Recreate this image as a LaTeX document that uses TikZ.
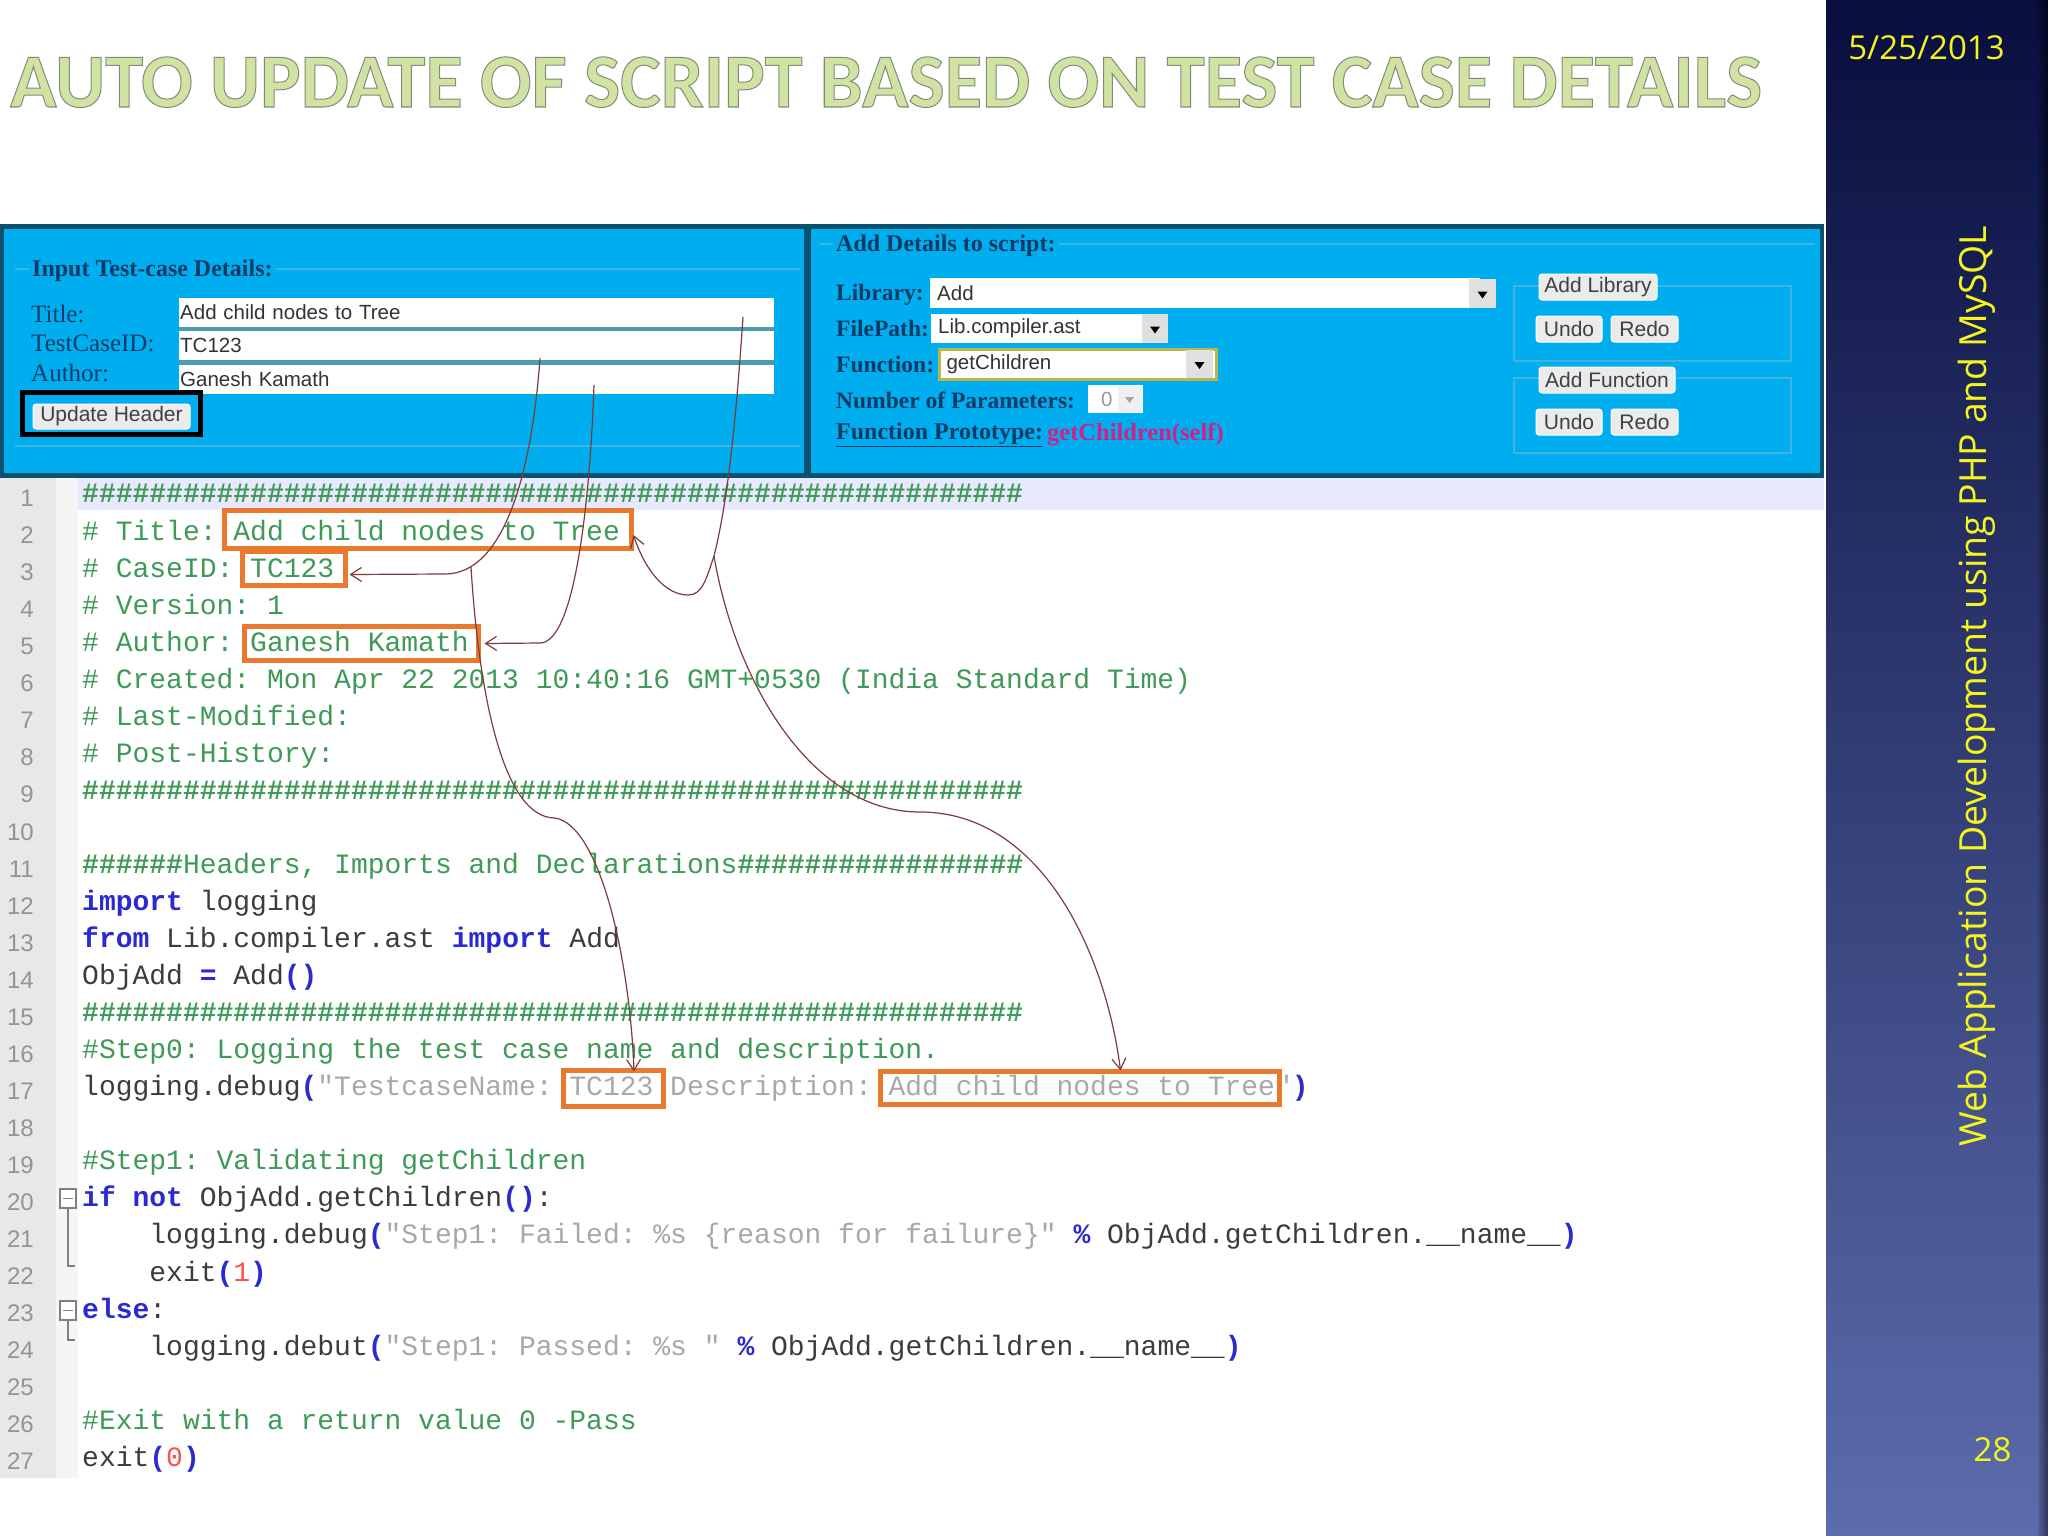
\documentclass[tikz,border=0pt]{standalone}
\usepackage{tikz}
\usepackage{xcolor}
\usepackage{fontspec}
\usetikzlibrary{arrows.meta}
\setmainfont{Liberation Serif}
\newfontfamily\titlefont{Carlito}
\newfontfamily\sidefont{Open Sans}
\newfontfamily\uifont{Liberation Sans}
\newfontfamily\codefont{Liberation Mono}

\definecolor{panelblue}{HTML}{00AEEF}
\definecolor{paneledge}{HTML}{0B5270}
\definecolor{panelline}{HTML}{3FB4DE}
\definecolor{panelink}{HTML}{0A3A66}
\definecolor{fieldline}{HTML}{4C9CB0}
\definecolor{sideyellow}{HTML}{F5F51E}
\definecolor{hlorange}{HTML}{E8792E}
\definecolor{arrowred}{HTML}{7E3B3B}
\definecolor{cmtgreen}{HTML}{3F9A58}
\definecolor{kwblue}{HTML}{2A2AD0}
\definecolor{strgrey}{HTML}{A8A8A8}
\definecolor{codedark}{HTML}{3C3C3C}
\definecolor{protomag}{HTML}{D0208A}
\definecolor{sidetop}{HTML}{080E3E}
\definecolor{sidemid}{HTML}{263270}
\definecolor{sidelow}{HTML}{5C6CAC}

\newcommand{\codecmt}[1]{\textcolor{cmtgreen}{#1}}
\newcommand{\codehash}[1]{\textcolor{cmtgreen}{\bfseries #1}}
\newcommand{\codekw}[1]{\textcolor{kwblue}{\bfseries #1}}
\newcommand{\codestr}[1]{\textcolor{strgrey}{#1}}
\newcommand{\codenum}[1]{\textcolor{red!70!white}{#1}}
\newcommand{\hashrow}{\#\#\#\#\#\#\#\#\#\#\#\#\#\#\#\#\#\#\#\#\#\#\#\#\#\#\#\#\#\#\#\#\#\#\#\#\#\#\#\#\#\#\#\#\#\#\#\#\#\#\#\#\#\#\#\#}
\newcommand{\indentcode}{\phantom{xxxx}}

\tikzset{
    legendtext/.style={font=\fontsize{24}{26}\selectfont\bfseries,text=panelink,fill=panelblue,inner xsep=3pt,inner ysep=0pt},
    fieldlabel/.style={font=\fontsize{25}{27}\selectfont,text=panelink,anchor=west,inner sep=0pt},
    boldlabel/.style={font=\fontsize{23.5}{25}\selectfont\bfseries,text=panelink,anchor=west,inner sep=0pt},
    inputbox/.style={fill=white,anchor=west,inner xsep=1pt,inner ysep=0pt,align=left,font=\uifont\fontsize{20.5}{23}\selectfont,text=black!80},
    pushbutton/.style={fill=black!8,draw=white,line width=1pt,rounded corners=3pt,inner sep=0pt,font=\uifont\fontsize{21}{23}\selectfont,text=black!75},
    groupbox/.style={draw=panelline,line width=1.5pt},
    hlbox/.style={draw=hlorange,line width=5pt,inner sep=0pt},
    linkarrow/.style={draw=arrowred,line width=1.2pt,-{Straight Barb[length=11pt,width=14pt]}},
    sidetext/.style={text=sideyellow,inner sep=0pt}
}

\begin{document}
\begin{tikzpicture}[x=1pt,y=-1pt]
    \useasboundingbox (0,0) rectangle (2048,1536);
    \fill[white] (0,0) rectangle (2048,1536);

    % side band
    \shade[top color=sidetop,middle color=sidemid,bottom color=sidelow] (1826,0) rectangle (2048,1536);
    \foreach \i in {0,...,4} {
        \fill[black,opacity=0.1] ({2038+2*\i},0) rectangle (2048,1536);
    }
    \node[sidetext,font=\sidefont\fontsize{33}{35}\selectfont] (datelabel) at (1926.5,48) {5/25/2013};
    \node[sidetext,font=\sidefont\fontsize{37.4}{39}\selectfont,rotate=90] (sidelabel) at (1977,686) {Web Application Development using PHP and MySQL};
    \node[sidetext,font=\sidefont\fontsize{33}{35}\selectfont] (pagelabel) at (1992.5,1450) {28};

    % heading
    \node[anchor=base west,inner sep=0pt,font=\titlefont\fontsize{76.5}{80}\selectfont\bfseries] (heading) at (10,107)
        {\special{pdf:bcolor [0.82 0.89 0.64] [0.5 0.55 0.48]}\special{pdf:code 2 Tr 1 w}AUTO UPDATE OF SCRIPT BASED ON TEST CASE DETAILS\special{pdf:code 0 Tr}\special{pdf:ecolor}};

    % panels
    \fill[paneledge] (0,224) rectangle (1824,478);
    \fill[panelblue] (4,229) rectangle (804,473);
    \fill[panelblue] (811,229) rectangle (1820,473);
    \draw[panelline,line width=1.5pt] (15,269) -- (800,269);
    \draw[panelline,line width=1.5pt] (15,446) -- (800,446);
    \draw[panelline,line width=1.5pt] (820,244) -- (1815,244);
    \node[legendtext,anchor=west] (legendinput) at (29,271) {Input Test-case Details:};
    \node[legendtext,anchor=west] (legenddetails) at (833,246) {Add Details to script:};

    % input side
    \fill[fieldline] (179,326) rectangle (774,366);
    \foreach \name/\label/\ylabel/\content/\ybox in {title/Title:/314/Add child nodes to Tree/312, caseid/TestCaseID:/343/TC123/345.5, author/Author:/373/Ganesh Kamath/379.5} {
        \node[fieldlabel] (lab\name) at (31,\ylabel) {\label};
        \node[inputbox,text width=593pt,minimum height=29pt] (in\name) at (179,\ybox) {\content};
    }
    \node[draw=black,line width=5pt,minimum width=178pt,minimum height=42pt,inner sep=0pt] (updateframe) at (111.5,413.5) {};
    \node[pushbutton,minimum width=157pt,minimum height=25pt] (updatebtn) at (111.5,416.5) {Update Header};

    % details side
    \foreach \name/\label/\ylabel in {library/Library:/295, filepath/FilePath:/329, function/Function:/365, params/Number of Parameters:/400} {
        \node[boldlabel] (lab\name) at (836,\ylabel) {\label};
    }
    \node[inputbox,text width=536pt,inner xsep=7pt,minimum height=30pt] (inlibrary) at (930,293) {Add};
    \node[inputbox,text width=223pt,inner xsep=7pt,minimum height=29pt] (infilepath) at (931,328.5) {Lib.compiler.ast};
    \node[inputbox,text width=263pt,inner xsep=7pt,minimum height=30pt,draw=olive!60!white,line width=3pt] (infunction) at (938,364) {getChildren};
    \node[inputbox,text width=53pt,minimum height=28pt,text=black!40] (inparams) at (1088,399) {\hspace*{12pt}0};
    \foreach \xa/\xb/\ya/\yb in {1469/1496/279/308, 1142/1168/314/343, 1186/1213/350/378} {
        \fill[black!12] (\xa,\ya) rectangle (\xb,\yb);
        \fill[black] ({(\xa+\xb)/2-5},{(\ya+\yb)/2-2}) -- ({(\xa+\xb)/2+5},{(\ya+\yb)/2-2}) -- ({(\xa+\xb)/2},{(\ya+\yb)/2+5}) -- cycle;
    }
    \fill[black!6] (1118,386) rectangle (1142,412);
    \fill[black!35] (1125,397) -- (1134,397) -- (1129.5,403) -- cycle;
    \node[boldlabel,font=\fontsize{24}{26}\selectfont\bfseries] (labproto) at (836,435) {\underline{Function Prototype:}};
    \node[boldlabel,text=protomag,font=\fontsize{24.5}{26}\selectfont\bfseries] (protovalue) at (1047,435) {getChildren(self)};

    \draw[groupbox] (1514,286) rectangle (1791,361);
    \draw[groupbox] (1514,378) rectangle (1791,453);
    \node[pushbutton,minimum width=118pt,minimum height=26pt] (addlibrary) at (1598,287) {Add Library};
    \node[pushbutton,minimum width=136pt,minimum height=26pt] (addfunction) at (1607,380) {Add Function};
    \foreach \row/\ybtn in {a/329, b/422} {
        \node[pushbutton,minimum width=66pt,minimum height=26pt] (undo\row) at (1569,\ybtn) {Undo};
        \node[pushbutton,minimum width=67pt,minimum height=26pt] (redo\row) at (1644.5,\ybtn) {Redo};
    }

    % gutter
    \fill[black!4] (0,478) rectangle (78,1478);
    \fill[black!9] (0,478) rectangle (56,1478);
    \fill[blue!9] (78,478) rectangle (1824,510);
    \foreach \n in {1,...,27} {
        \node[anchor=base east,inner sep=0pt,text=black!42,font=\uifont\fontsize{24}{26}\selectfont] (num\n) at (34,{469.5+37.05*\n}) {\n};
    }

    % code lines
    \begin{scope}[font=\codefont\fontsize{28}{30}\selectfont\frenchspacing,text=codedark]
        \foreach \n/\code in {
            1/{\codehash{\hashrow}},
            2/{\codecmt{\# Title: Add child nodes to Tree}},
            3/{\codecmt{\# CaseID: TC123}},
            4/{\codecmt{\# Version: 1}},
            5/{\codecmt{\# Author: Ganesh Kamath}},
            6/{\codecmt{\# Created: Mon Apr 22 2013 10:40:16 GMT+0530 (India Standard Time)}},
            7/{\codecmt{\# Last-Modified:}},
            8/{\codecmt{\# Post-History:}},
            9/{\codehash{\hashrow}},
            11/{\codehash{\#\#\#\#\#\#}\codecmt{Headers, Imports and Declarations}\codehash{\#\#\#\#\#\#\#\#\#\#\#\#\#\#\#\#\#}},
            12/{\codekw{import} logging},
            13/{\codekw{from} Lib.compiler.ast \codekw{import} Add},
            14/{ObjAdd \codekw{=} Add\codekw{()}},
            15/{\codehash{\hashrow}},
            16/{\codecmt{\#Step0: Logging the test case name and description.}},
            17/{logging.debug\codekw{(}\codestr{"TestcaseName: TC123 Description: Add child nodes to Tree"}\codekw{)}},
            19/{\codecmt{\#Step1: Validating getChildren}},
            20/{\codekw{if not} ObjAdd.getChildren\codekw{()}:},
            21/{\indentcode logging.debug\codekw{(}\codestr{"Step1: Failed: \%s \{reason for failure\}"} \codekw{\%} ObjAdd.getChildren.\_\_name\_\_\codekw{)}},
            22/{\indentcode exit\codekw{(}\codenum{1}\codekw{)}},
            23/{\codekw{else}:},
            24/{\indentcode logging.debut\codekw{(}\codestr{"Step1: Passed: \%s "} \codekw{\%} ObjAdd.getChildren.\_\_name\_\_\codekw{)}},
            26/{\codecmt{\#Exit with a return value 0 -Pass}},
            27/{exit\codekw{(}\codenum{0}\codekw{)}}} {
            \node[anchor=base west,inner sep=0pt] (code\n) at (82,{465.9+37.05*\n}) {\code};
        }
    \end{scope}

    % fold marks
    \foreach \ya/\yb in {1189/1266, 1301/1340} {
        \draw[black!50,line width=1.2pt] (68,\ya+19) -- (68,\yb) -- (75,\yb);
        \draw[black!50,line width=1.2pt,fill=white] (60,\ya) rectangle (76,\ya+19);
        \draw[black!50,line width=1.2pt] (63,\ya+9.5) -- (73,\ya+9.5);
    }

    % highlights
    \node[hlbox,minimum width=407pt,minimum height=38pt] (boxtitle) at (427.5,529) {};
    \node[hlbox,minimum width=103pt,minimum height=34pt] (boxcase) at (293.5,568.5) {};
    \node[hlbox,minimum width=234pt,minimum height=34pt] (boxauthor) at (361,643.5) {};
    \node[hlbox,minimum width=100pt,minimum height=36pt] (boxname) at (613,1088.5) {};
    \node[hlbox,minimum width=399pt,minimum height=33pt] (boxdesc) at (1079.5,1087.5) {};

    % links
    \coordinate (fromcase) at (540,358);
    \coordinate (fromauthor) at (594,385);
    \coordinate (fromtitle) at (743,317);
    \coordinate (forkcase) at (471,567);
    \coordinate (forktitle) at (714,556);
    \draw[linkarrow] (fromcase) .. controls (532,470) and (505,574) .. (445,574) -- ([xshift=2pt,yshift=-6pt]boxcase.east);
    \draw[linkarrow] (fromauthor) .. controls (590,500) and (575,643) .. (540,643) -- ([xshift=4pt]boxauthor.east);
    \draw[linkarrow] (fromtitle) .. controls (736,420) and (728,500) .. (forktitle) .. controls (706,580) and (702,595) .. (688,595) .. controls (665,595) and (645,570) .. ([yshift=-6pt]boxtitle.east);
    \draw[linkarrow] (forkcase) .. controls (478,680) and (500,818) .. (555,818) .. controls (600,825) and (630,960) .. ([xshift=21pt,yshift=17pt]boxname.center);
    \draw[linkarrow] (forktitle) .. controls (735,680) and (810,812) .. (920,812) .. controls (1040,812) and (1105,950) .. ([xshift=41pt,yshift=17pt]boxdesc.center);
\end{tikzpicture}
\end{document}
